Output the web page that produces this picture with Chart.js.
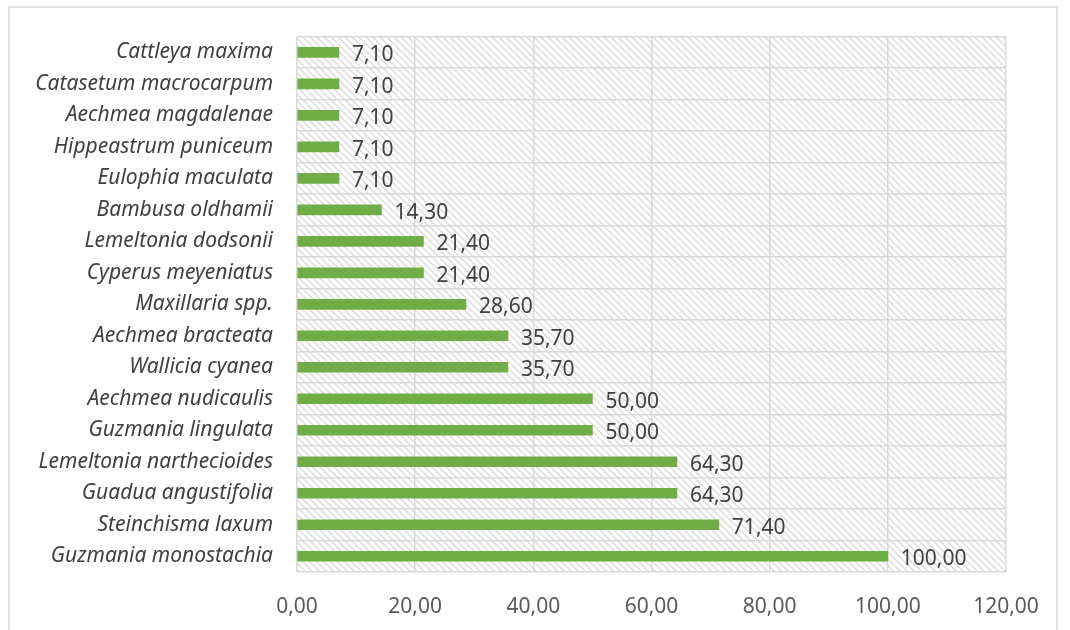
<!DOCTYPE html>
<html>
<head>
<meta charset="utf-8">
<script src="https://cdn.jsdelivr.net/npm/chart.js@4/dist/chart.umd.min.js"></script>
<style>
  html, body { margin: 0; padding: 0; background: #fff; }
  #wrap { width: 1070px; height: 630px; position: relative; }
</style>
</head>
<body>
<div id="wrap"><canvas id="myChart"></canvas></div>
<script>
const species = [
  "Cattleya maxima",
  "Catasetum macrocarpum",
  "Aechmea magdalenae",
  "Hippeastrum puniceum",
  "Eulophia maculata",
  "Bambusa oldhamii",
  "Lemeltonia dodsonii",
  "Cyperus meyeniatus",
  "Maxillaria spp.",
  "Aechmea bracteata",
  "Wallicia cyanea",
  "Aechmea nudicaulis",
  "Guzmania lingulata",
  "Lemeltonia narthecioides",
  "Guadua angustifolia",
  "Steinchisma laxum",
  "Guzmania monostachia",
];
const frequency = [7.1, 7.1, 7.1, 7.1, 7.1, 14.3, 21.4, 21.4, 28.6, 35.7, 35.7, 50, 50, 64.3, 64.3, 71.4, 100];
const xTicks = [0, 20, 40, 60, 80, 100, 120];

const fmt = (v) => v.toFixed(2).replace(".", ",");

// diagonal hatch for the plot background
function hatchPattern() {
  const c = document.createElement("canvas");
  c.width = 7;
  c.height = 7;
  const g = c.getContext("2d");
  g.fillStyle = "#ffffff";
  g.fillRect(0, 0, 7, 7);
  g.strokeStyle = "#dcdcdc";
  g.lineWidth = 1.5;
  g.beginPath();
  g.moveTo(-2, -2); g.lineTo(9, 9);
  g.moveTo(-2, 5); g.lineTo(2, 9);
  g.moveTo(5, -2); g.lineTo(9, 2);
  g.stroke();
  return g.createPattern(c, "repeat");
}

const background = {
  id: "background",
  beforeDraw(chart) {
    const { ctx, chartArea: a } = chart;
    ctx.save();
    ctx.fillStyle = "#ffffff";
    ctx.fillRect(0, 0, chart.width, chart.height);
    ctx.strokeStyle = "#d9d9d9";
    ctx.lineWidth = 1.5;
    ctx.strokeRect(9, 7, 1048, 660);
    ctx.fillStyle = hatchPattern();
    ctx.fillRect(a.left, a.top, a.right - a.left, a.bottom - a.top);
    ctx.restore();
  },
};

const valueLabels = {
  id: "valueLabels",
  afterDatasetsDraw(chart) {
    const { ctx } = chart;
    const meta = chart.getDatasetMeta(0);
    ctx.save();
    ctx.font = "21px 'Noto Sans'";
    ctx.fillStyle = "#404040";
    ctx.textAlign = "left";
    ctx.textBaseline = "middle";
    meta.data.forEach((bar, i) => {
      ctx.fillText(fmt(frequency[i]), bar.x + 13, bar.y + 3);
    });
    ctx.restore();
  },
};

const ctx = document.getElementById("myChart");

new Chart(ctx, {
  type: "bar",
  data: {
    labels: species,
    datasets: [
      {
        data: frequency,
        backgroundColor: "#70ad47",
        barThickness: 10,
      },
    ],
  },
  options: {
    indexAxis: "y",
    responsive: true,
    maintainAspectRatio: false,
    animation: false,
    layout: {
      padding: { left: 0, right: 64, top: 34, bottom: 12 },
    },
    plugins: {
      legend: { display: false },
      tooltip: { enabled: false },
    },
    scales: {
      x: {
        min: 0,
        max: 120,
        afterBuildTicks: (scale) => {
          scale.ticks = xTicks.map((v) => ({ value: v }));
        },
        afterFit: (scale) => {
          scale.height = 46;
        },
        border: { display: false },
        grid: { color: "#d9d9d9", lineWidth: 1.5, drawTicks: false },
        ticks: {
          padding: 22,
          color: "#595959",
          font: { family: "'Noto Sans'", size: 21 },
          callback: (v) => fmt(v),
        },
      },
      y: {
        afterFit: (scale) => {
          scale.width = 297;
        },
        border: { display: false },
        grid: { color: "#d9d9d9", lineWidth: 1.5, drawTicks: false, offset: true },
        ticks: {
          padding: 24,
          color: "#404040",
          font: { family: "'Noto Sans'", size: 21, style: "italic" },
        },
      },
    },
  },
  plugins: [background, valueLabels],
});
</script>
</body>
</html>
